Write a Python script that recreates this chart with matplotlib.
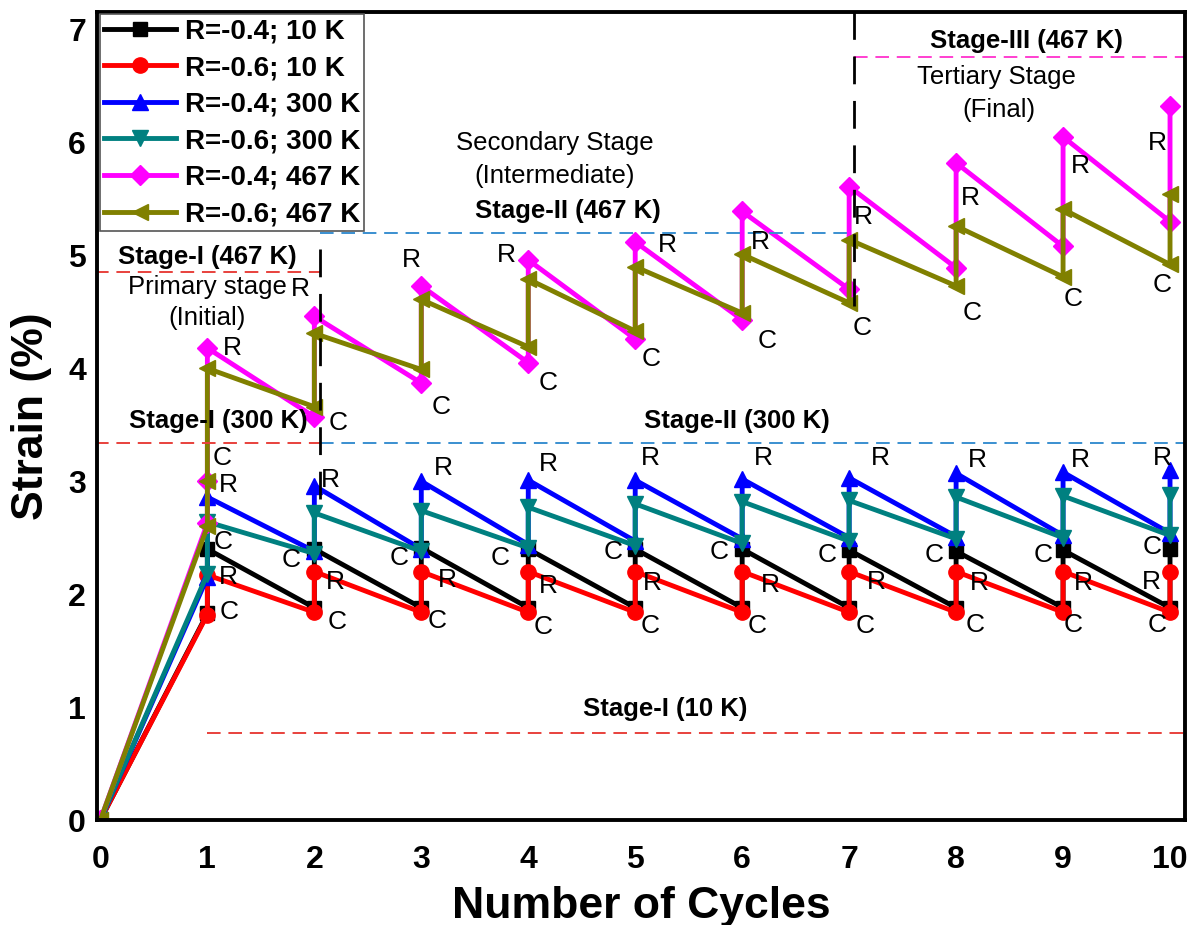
import matplotlib
matplotlib.use('Agg')
import matplotlib.pyplot as plt

plt.rcParams['font.family'] = ['Liberation Sans', 'DejaVu Sans']

# data
cycles = [0, 1, 1, 2, 2, 3, 3, 4, 4, 5, 5, 6, 6, 7, 7, 8, 8, 9, 9, 10, 10]
cycles_467 = [0, 1, 1, 1, 2, 2, 3, 3, 4, 4, 5, 5, 6, 6, 7, 7, 8, 8, 9, 9, 10, 10]

r04_10k = [0, 1.83, 2.40, 1.88, 2.40, 1.88, 2.41, 1.88, 2.40, 1.88, 2.40, 1.88, 2.40,
           1.88, 2.39, 1.88, 2.38, 1.88, 2.39, 1.88, 2.40]
r06_10k = [0, 1.82, 2.17, 1.84, 2.20, 1.84, 2.20, 1.84, 2.20, 1.84, 2.20, 1.84, 2.20,
           1.84, 2.20, 1.84, 2.20, 1.84, 2.20, 1.84, 2.20]
r04_300k = [0, 2.15, 2.86, 2.38, 2.96, 2.40, 3.00, 2.44, 3.01, 2.47, 3.01, 2.49, 3.02,
            2.50, 3.03, 2.51, 3.07, 2.52, 3.08, 2.54, 3.10]
r06_300k = [0, 2.18, 2.64, 2.36, 2.72, 2.38, 2.74, 2.41, 2.77, 2.43, 2.80, 2.45, 2.82,
            2.47, 2.83, 2.49, 2.86, 2.50, 2.87, 2.52, 2.88]
r04_467k = [0, 2.63, 3.00, 4.18, 3.57, 4.46, 3.87, 4.73, 4.05, 4.96, 4.26, 5.12, 4.43,
            5.39, 4.70, 5.61, 4.89, 5.82, 5.08, 6.05, 5.30, 6.32]
r06_467k = [0, 2.60, 3.00, 4.00, 3.66, 4.31, 3.99, 4.61, 4.19, 4.79, 4.33, 4.90, 4.49,
            5.01, 4.58, 5.14, 4.73, 5.26, 4.81, 5.41, 4.92, 5.54]

series_labels = ['R=-0.4; 10 K', 'R=-0.6; 10 K', 'R=-0.4; 300 K',
                 'R=-0.6; 300 K', 'R=-0.4; 467 K', 'R=-0.6; 467 K']

# stage boundaries
stage1_10k = 0.77
stage1_300k = 3.34
stage1_467k = 4.85
stage2_467k = 5.20
stage3_467k = 6.76

# R / C markers of each cycle (low temperature group)
rc_low = [
    (1.14, 3.21, 'C'), (1.20, 2.97, 'R'), (1.15, 2.46, 'C'), (1.20, 2.15, 'R'), (1.20, 1.84, 'C'),
    (2.15, 3.01, 'R'), (1.78, 2.30, 'C'), (2.20, 2.11, 'R'), (2.21, 1.75, 'C'),
    (3.21, 3.12, 'R'), (2.79, 2.32, 'C'), (3.24, 2.13, 'R'), (3.15, 1.76, 'C'),
    (4.19, 3.15, 'R'), (3.74, 2.32, 'C'), (4.19, 2.07, 'R'), (4.14, 1.71, 'C'),
    (5.14, 3.21, 'R'), (4.79, 2.37, 'C'), (5.16, 2.10, 'R'), (5.14, 1.72, 'C'),
    (6.20, 3.21, 'R'), (5.78, 2.37, 'C'), (6.26, 2.08, 'R'), (6.14, 1.72, 'C'),
    (7.29, 3.21, 'R'), (6.79, 2.35, 'C'), (7.25, 2.11, 'R'), (7.15, 1.72, 'C'),
    (8.20, 3.19, 'R'), (7.79, 2.35, 'C'), (8.22, 2.10, 'R'), (8.18, 1.73, 'C'),
    (9.16, 3.19, 'R'), (8.81, 2.35, 'C'), (9.19, 2.10, 'R'), (9.09, 1.73, 'C'),
    (9.93, 3.21, 'R'), (9.83, 2.42, 'C'), (9.83, 2.11, 'R'), (9.88, 1.73, 'C'),
]
# R / C markers for 467 K
rc_high = [
    (1.23, 4.18, 'R'),
    (1.87, 4.70, 'R'), (2.22, 3.52, 'C'),
    (2.91, 4.96, 'R'), (3.19, 3.66, 'C'),
    (3.80, 5.00, 'R'), (4.19, 3.87, 'C'),
    (5.30, 5.09, 'R'), (5.15, 4.08, 'C'),
    (6.17, 5.12, 'R'), (6.23, 4.24, 'C'),
    (7.13, 5.34, 'R'), (7.12, 4.36, 'C'),
    (8.13, 5.51, 'R'), (8.15, 4.49, 'C'),
    (9.16, 5.79, 'R'), (9.09, 4.61, 'C'),
    (9.88, 6.00, 'R'), (9.93, 4.74, 'C'),
]


def main():
    fig = plt.figure(figsize=(12, 9.25), dpi=100)
    ax = fig.add_axes([0.081, 0.1135, 0.9065, 0.874])

    styles = [('black', 's', 10), ('red', 'o', 11), ('blue', '^', 11),
              ('#008080', 'v', 11), ('magenta', 'D', 10), ('#808000', '<', 11)]
    data = [(cycles, r04_10k), (cycles, r06_10k), (cycles, r04_300k),
            (cycles, r06_300k), (cycles_467, r04_467k), (cycles_467, r06_467k)]
    for (xs, ys), (c, m, ms), lab in zip(data, styles, series_labels):
        ax.plot(xs, ys, color=c, marker=m, ms=ms, lw=3.5, label=lab)

    # stage lines
    red_d = '#e8413c'
    blue_d = '#3a8fd0'
    dash = dict(lw=1.4, dashes=(7, 4))
    ax.plot([1, 10.2], [stage1_10k] * 2, color=red_d, **dash)
    ax.plot([-0.05, 2.05], [stage1_300k] * 2, color=red_d, **dash)
    ax.plot([2.05, 10.2], [stage1_300k] * 2, color=blue_d, **dash)
    ax.plot([-0.05, 2.05], [stage1_467k] * 2, color=red_d, **dash)
    ax.plot([2.05, 7.05], [stage2_467k] * 2, color=blue_d, **dash)
    ax.plot([7.05, 10.2], [stage3_467k] * 2, color='#ff3fd0', **dash)
    ax.plot([2.05, 2.05], [2.84, stage2_467k], color='black', lw=2, dashes=(10, 6))
    ax.plot([7.05, 7.05], [4.55, 7.3], color='black', lw=2, dashes=(10, 6))

    bold = dict(fontsize=18.5, fontweight='bold', ha='center', va='center')
    norm = dict(fontsize=18.5, ha='center', va='center')
    ax.text(1.0, 4.99, 'Stage-I (467 K)', **bold)
    ax.text(1.0, 4.72, 'Primary stage', **norm)
    ax.text(1.0, 4.45, '(Initial)', **norm)
    ax.text(4.25, 6.0, 'Secondary Stage', **norm)
    ax.text(4.25, 5.70, '(Intermediate)', **norm)
    ax.text(4.37, 5.39, 'Stage-II (467 K)', **bold)
    ax.text(5.95, 3.53, 'Stage-II (300 K)', **bold)
    ax.text(1.1, 3.53, 'Stage-I (300 K)', **bold)
    ax.text(5.28, 0.98, 'Stage-I (10 K)', **bold)
    ax.text(8.66, 6.90, 'Stage-III (467 K)', **bold)
    ax.text(8.38, 6.58, 'Tertiary Stage', **norm)
    ax.text(8.40, 6.29, '(Final)', **norm)

    for x, y, t in rc_low + rc_high:
        ax.text(x, y, t, fontsize=19, ha='center', va='center')

    ax.set_xlim(-0.03, 10.14)
    ax.set_ylim(0, 7.16)
    ax.set_xticks(range(0, 11))
    ax.set_yticks(range(0, 8))
    ax.tick_params(length=0, labelsize=23)
    ax.tick_params(axis='x', pad=18)
    ax.tick_params(axis='y', pad=8)
    for t in ax.get_xticklabels() + ax.get_yticklabels():
        t.set_fontweight('bold')
    for s in ax.spines.values():
        s.set_linewidth(2.8)

    ax.set_xlabel('Number of Cycles', fontsize=32, fontweight='bold', labelpad=8)
    ax.set_ylabel('Strain (%)', fontsize=32, fontweight='bold', labelpad=12)

    leg = ax.legend(loc='upper left', borderaxespad=0.1,
                    prop=dict(weight='bold', size=20), handlelength=2.6,
                    handletextpad=0.3, labelspacing=0.38, borderpad=0.15,
                    fancybox=False, framealpha=1)
    leg.get_frame().set_edgecolor('#555555')
    leg.get_frame().set_linewidth(1.2)

    fig.savefig('out.png', dpi=100)


if __name__ == '__main__':
    main()
